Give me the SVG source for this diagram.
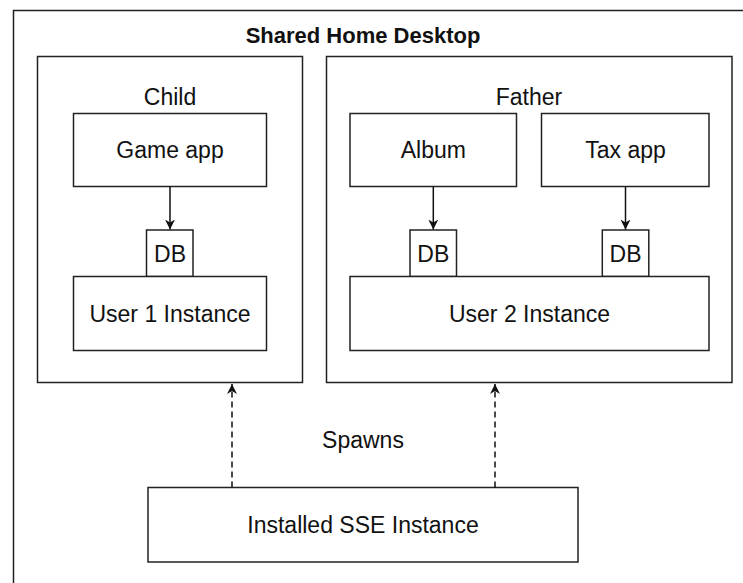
<svg xmlns="http://www.w3.org/2000/svg" width="743" height="583" viewBox="0 0 743 583">
  <style>
    .box { fill: #fff; stroke: #222; stroke-width: 1.5; }
    .frame { fill: none; stroke: #222; stroke-width: 1.5; }
    .t { font-family: "Liberation Sans", Arial, sans-serif; font-size: 23px; fill: #111; text-anchor: middle; }
    .title { font-family: "Liberation Sans", Arial, sans-serif; font-size: 22px; font-weight: bold; fill: #111; text-anchor: middle; }
    .conn { fill: none; stroke: #111; stroke-width: 1.5; }
    .dash { stroke-dasharray: 6 4; }
  </style>
  <defs>
    <marker id="ah" viewBox="0 0 10 12" refX="10" refY="6" markerWidth="10" markerHeight="12" markerUnits="userSpaceOnUse" orient="auto">
      <path d="M0,1 L10,6 L0,11 L3,6 Z" fill="#111"/>
    </marker>
  </defs>
  <rect width="743" height="583" fill="#fff"/>

  <g id="shared-home-desktop">
    <path class="frame" d="M13.5,583 V10.5 H743"/>
    <text class="title" x="363" y="43">Shared Home Desktop</text>
  </g>

  <g id="child">
    <rect class="box" x="37.5" y="56.5" width="265" height="326"/>
    <text class="t" x="170" y="105">Child</text>
  </g>
  <g id="father">
    <rect class="box" x="326.5" y="56.5" width="405.5" height="326"/>
    <text class="t" x="529" y="105">Father</text>
  </g>

  <g id="game-app">
    <rect class="box" x="73.5" y="113.5" width="193" height="73"/>
    <text class="t" x="170" y="158">Game app</text>
  </g>
  <g id="db-child">
    <rect class="box" x="146.5" y="230" width="46.5" height="46.5"/>
    <text class="t" x="170" y="261.5">DB</text>
  </g>
  <g id="user1">
    <rect class="box" x="73.5" y="276.5" width="193" height="74"/>
    <text class="t" x="170" y="321.5">User 1 Instance</text>
  </g>

  <g id="album">
    <rect class="box" x="350" y="113.5" width="166.5" height="73"/>
    <text class="t" x="433.3" y="158">Album</text>
  </g>
  <g id="tax-app">
    <rect class="box" x="541.5" y="113.5" width="167.5" height="73"/>
    <text class="t" x="625.5" y="158">Tax app</text>
  </g>
  <g id="db-album">
    <rect class="box" x="410" y="230" width="46.5" height="46.5"/>
    <text class="t" x="433.3" y="261.5">DB</text>
  </g>
  <g id="db-tax">
    <rect class="box" x="602.3" y="230" width="46.5" height="46.5"/>
    <text class="t" x="625.5" y="261.5">DB</text>
  </g>
  <g id="user2">
    <rect class="box" x="350" y="276.5" width="359" height="74"/>
    <text class="t" x="529.5" y="321.5">User 2 Instance</text>
  </g>

  <g id="sse">
    <rect class="box" x="148" y="487.5" width="430" height="74.5"/>
    <text class="t" x="363" y="532.5">Installed SSE Instance</text>
  </g>

  <g id="connectors">
    <line class="conn" x1="170" y1="186.5" x2="170" y2="229.5" marker-end="url(#ah)"/>
    <line class="conn" x1="433.3" y1="186.5" x2="433.3" y2="229.5" marker-end="url(#ah)"/>
    <line class="conn" x1="625.5" y1="186.5" x2="625.5" y2="229.5" marker-end="url(#ah)"/>
    <line class="conn dash" x1="232" y1="487.5" x2="232" y2="384" marker-end="url(#ah)"/>
    <line class="conn dash" x1="495" y1="487.5" x2="495" y2="384" marker-end="url(#ah)"/>
    <text class="t" x="363" y="448">Spawns</text>
  </g>
</svg>
